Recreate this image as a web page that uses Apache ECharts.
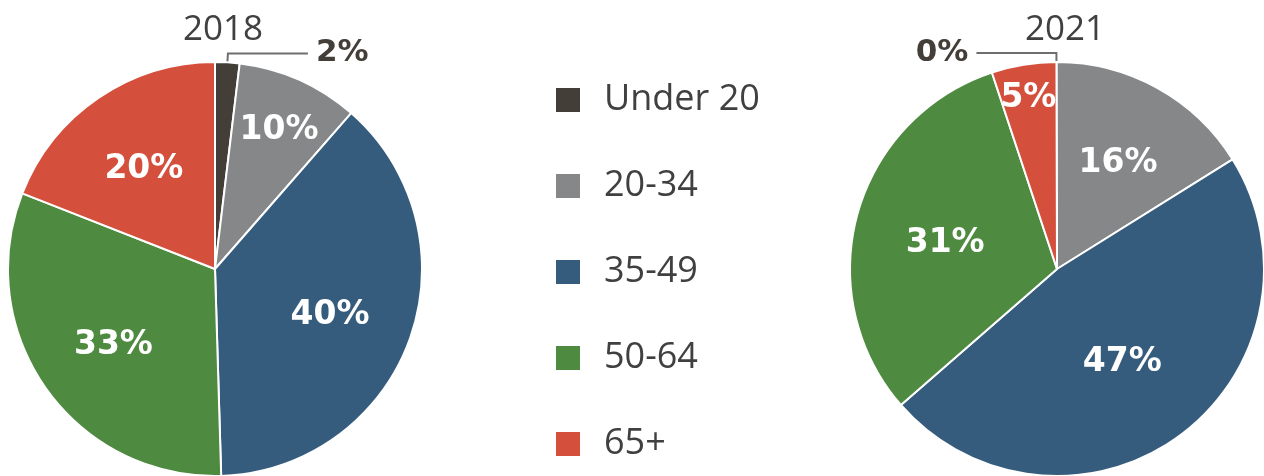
<!DOCTYPE html>
<html>
<head>
<meta charset="utf-8">
<script src="https://cdn.jsdelivr.net/npm/echarts@6/dist/echarts.min.js"></script>
<style>
html,body{margin:0;padding:0;background:#fff;}
#chart{width:1264px;height:476px;}
</style>
</head>
<body>
<div id="chart"></div>
<script>
// ---- data ----
const categories = ['Under 20', '20-34', '35-49', '50-64', '65+'];
const years = ['2018', '2021'];
const values2018 = [2, 10, 40, 33, 20];
const values2021 = [0, 16, 47, 31, 5];

// ---- style ----
const colors = ['#433f38', '#868789', '#365c7d', '#4e8a3f', '#d5503c'];
const R = 207;
const centers = [[215, 269], [1057, 269]];
// radial placement of the inside labels, as a fraction of radius
const labelFrac = [
  [null, 0.76, 0.59, 0.60, 0.61],
  [null, 0.61, 0.53, 0.56, 0.86]
];
const labelDrop = 5;

function makeSeries(idx, name, values, startAngle) {
  const c = centers[idx];
  return {
    type: 'pie',
    name: name,
    center: c,
    radius: [0, R],
    startAngle: startAngle,
    clockwise: true,
    avoidLabelOverlap: false,
    animation: false,
    itemStyle: { borderColor: '#ffffff', borderWidth: 2 },
    label: {
      show: true,
      position: 'inside',
      formatter: '{c}%',
      color: '#ffffff',
      fontFamily: 'DejaVu Sans',
      fontWeight: 'bold',
      fontSize: 33
    },
    labelLine: { show: false },
    labelLayout: function (p) {
      if (p.dataIndex === 0) return {};
      const f = labelFrac[idx][p.dataIndex];
      const lx = p.labelRect.x + p.labelRect.width / 2;
      const ly = p.labelRect.y + p.labelRect.height / 2;
      const vx = lx - c[0], vy = ly - c[1];
      const d = Math.sqrt(vx * vx + vy * vy) || 1;
      const target = f * R;
      return { dx: vx / d * target - vx, dy: vy / d * target - vy + labelDrop };
    },
    data: categories.map((cat, i) => {
      const item = { name: cat, value: values[i], itemStyle: { color: colors[i] } };
      if (i === 0) {
        item.label = {
          position: 'outside',
          color: '#433f38',
          fontFamily: 'DejaVu Sans',
          fontWeight: 'bold',
          fontSize: 31,
          distanceToLabelLine: 8,
          padding: [8, 0, 0, 0]
        };
        item.labelLine = {
          show: true,
          length: 9,
          length2: 80,
          smooth: false,
          lineStyle: { color: '#6e6e6e', width: 2 }
        };
      }
      return item;
    })
  };
}

const chart = echarts.init(document.getElementById('chart'), null, { renderer: 'canvas' });
chart.setOption({
  backgroundColor: '#ffffff',
  animation: false,
  title: [
    { text: years[0], left: 218, top: 8, textAlign: 'center',
      textStyle: { fontFamily: 'Open Sans', fontWeight: 'normal', fontSize: 35, color: '#404040' } },
    { text: years[1], left: 1060, top: 8, textAlign: 'center',
      textStyle: { fontFamily: 'Open Sans', fontWeight: 'normal', fontSize: 35, color: '#404040' } }
  ],
  legend: {
    orient: 'vertical',
    left: 549,
    top: 77,
    itemWidth: 26,
    itemHeight: 26,
    itemGap: 50,
    icon: 'rect',
    selectedMode: false,
    data: categories,
    textStyle: { fontFamily: 'Open Sans', fontSize: 36, color: '#404040', padding: [0, 0, 0, 18] }
  },
  series: [
    makeSeries(0, years[0], values2018, 90),
    makeSeries(1, years[1], values2021, 90.15)
  ]
});
</script>
</body>
</html>
